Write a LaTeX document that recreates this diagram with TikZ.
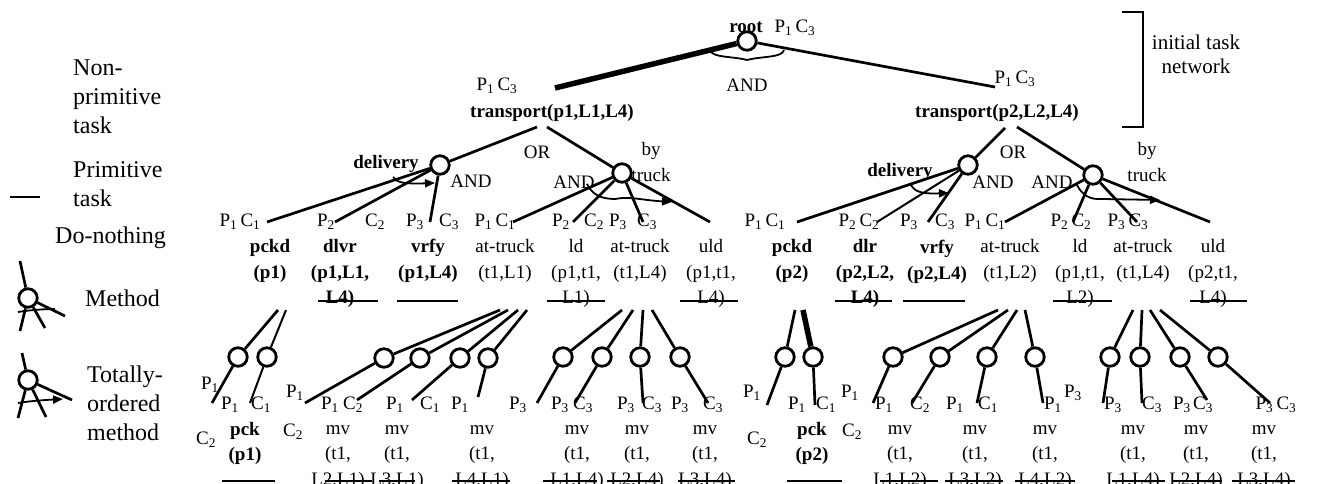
\documentclass[tikz,border=0pt]{standalone}
\usepackage{fontspec}
\setmainfont{Liberation Serif}
\usetikzlibrary{arrows.meta,calc}

\newcommand\lblPC[2]{P\textsubscript{#1}\,C\textsubscript{#2}}
\newcommand\lblP[1]{P\textsubscript{#1}}
\newcommand\lblC[1]{C\textsubscript{#1}}

\tikzset{
  txt/.style={font=\fontsize{19}{25.5}\selectfont, inner sep=0pt, align=center},
  btxt/.style={font=\fontsize{19}{25.5}\selectfont\bfseries, inner sep=0pt, align=center},
  legtxt/.style={font=\fontsize{24}{29}\selectfont, inner sep=0pt, align=left, anchor=west},
  meth/.style={circle, draw, line width=2.8pt, fill=white, minimum size=18.5pt, inner sep=0pt},
  conn/.style={line width=2.7pt},
  thinconn/.style={line width=2pt},
  heavy/.style={line width=5.5pt},
  prim/.style={line width=2.4pt},
  ordarrow/.style={line width=1.8pt, -{Triangle[length=10pt,width=8pt]}},
  andarc/.style={line width=1.8pt},
}

\begin{document}
\begin{tikzpicture}[x=1pt,y=-1pt]
\useasboundingbox (0,0) rectangle (1319,484);

% ================= legend =================
\node[legtxt] (legNP) at (73,97) {Non-\\primitive\\task};
\node[legtxt] (legPT) at (73,184) {Primitive\\task};
\coordinate (legPTa) at (10,197);
\coordinate (legPTb) at (40,197);
\draw[conn] (legPTa) -- (legPTb);
\node[legtxt] (legDN) at (55,238) {Do-nothing};

% method symbol
\node[meth] (legM) at (28,298) {};
\draw[conn] (legM) -- (20,261);
\draw[conn] (legM) -- (65,316);
\draw[conn] (legM) -- (20,331);
\draw[conn] (legM) -- (45,328);
\draw[andarc] (18,312) .. controls (30,310) and (45,309) .. (55,309);
\node[legtxt] (legMT) at (85,298) {Method};

% totally-ordered method symbol
\node[meth] (legT) at (28,380) {};
\draw[conn] (legT) -- (22,353);
\draw[conn] (legT) -- (72,400);
\draw[conn] (legT) -- (18,418);
\draw[conn] (legT) -- (46,417);
\draw[ordarrow] (18,403) .. controls (30,401) and (45,400) .. (63,399);
\node[legtxt] (legTT) at (87,403) {Totally-\\ordered\\method};

% ================= root =================
\node[btxt] (rootT) at (746,27) {root};
\node[txt] (rootPC) at (795,28) {\lblPC13};
\node[meth] (m0) at (747,41) {};
\node[txt] (andRoot) at (747,85) {AND};
\draw[andarc] ($(m0)+(-37,9)$) .. controls ($(m0)+(-35,17)$) and ($(m0)+(-15,15)$) .. ($(m0)+(0,19)$)
              .. controls ($(m0)+(15,15)$) and ($(m0)+(35,17)$) .. ($(m0)+(37,9)$);

\node[txt] (t1PC) at (497,86) {\lblPC13};
\node[btxt] (t1) at (552,113) {transport(p1,L1,L4)};
\node[txt] (t2PC) at (1015,79) {\lblPC13};
\node[btxt] (t2) at (997,113) {transport(p2,L2,L4)};
\coordinate (t1in) at (555,88);
\coordinate (t2in) at (995,87);
\draw[heavy] (m0) -- (t1in);
\draw[conn] (m0) -- (t2in);

% bracket for the initial task network
\draw[line width=2.2pt] (1122,12) -| (1143,127) -- (1122,127);
\node[txt, font=\fontsize{21}{24}\selectfont] (initNet) at (1196,54) {initial task\\network};

% ================= transport(p1,L1,L4) =================
\node[meth] (dl1) at (440,165) {};
\node[meth] (bt1) at (622,173) {};
\coordinate (t1a) at (537,127);
\coordinate (t1b) at (547,127);
\draw[conn] (t1a) -- (dl1);
\draw[conn] (t1b) -- (bt1);
\node[txt] (or1) at (537,152) {OR};
\node[txt] (by1) at (651,162) {by\\truck};
\node[btxt] (del1) at (386,164) {delivery};
\node[txt] (and1a) at (471,181) {AND};
\node[txt] (and1b) at (574,182) {AND};

\coordinate (dl1a) at (267,222);
\coordinate (dl1b) at (335,222);
\coordinate (dl1c) at (430,222);
\draw[conn] (dl1) -- (dl1a);
\draw[conn] (dl1) -- (dl1b);
\draw[conn] (dl1) -- (dl1c);
\draw[ordarrow] (393,177) .. controls (397,183) and (405,184) .. (435,183);

\coordinate (bt1a) at (513,222);
\coordinate (bt1b) at (573,222);
\coordinate (bt1c) at (643,222);
\coordinate (bt1d) at (710,222);
\draw[conn] (bt1) -- (bt1a);
\draw[conn] (bt1) -- (bt1b);
\draw[conn] (bt1) -- (bt1c);
\draw[conn] (bt1) -- (bt1d);
\draw[ordarrow] (587,184) .. controls (592,194) and (600,199) .. (615,199)
                .. controls (630,196) and (640,200) .. (672,202);

\node[txt] (q1) at (240,222) {\lblPC11};
\node[txt] (q2) at (326,222) {\lblP2};
\node[txt] (q3) at (375,222) {\lblC2};
\node[txt] (q4) at (415,222) {\lblP3};
\node[txt] (q5) at (449,222) {\lblC3};
\node[txt] (q6) at (495,222) {\lblPC11};
\node[txt] (q7) at (561,222) {\lblP2};
\node[txt] (q8) at (594,222) {\lblC2};
\node[txt] (q9) at (618,222) {\lblP3};
\node[txt] (q10) at (647,222) {\lblC3};

\node[btxt] (pckd1) at (270,261) {pckd\\(p1)};
\node[btxt] (dlvr1) at (340,273.5) {dlvr\\(p1,L1,\\L4)};
\node[btxt] (vrfy1) at (428,261) {vrfy\\(p1,L4)};
\node[txt] (atA) at (505,261) {at-truck\\(t1,L1)};
\node[txt] (ld1) at (576,273.5) {ld\\(p1,t1,\\L1)};
\node[txt] (atB) at (640,261) {at-truck\\(t1,L4)};
\node[txt] (uld1) at (711,273.5) {uld\\(p1,t1,\\L4)};
\draw[prim] (318,301) -- (378,301);
\draw[prim] (397,301) -- (458,301);
\draw[prim] (547,301) -- (605,301);
\draw[prim] (680,301) -- (738,301);

% ================= transport(p2,L2,L4) =================
\node[meth] (dl2) at (968,165) {};
\node[meth] (bt2) at (1093,175) {};
\coordinate (t2a) at (1005,128);
\coordinate (t2b) at (1017,127);
\draw[conn] (t2a) -- (dl2);
\draw[conn] (t2b) -- (bt2);
\node[txt] (or2) at (1013,152) {OR};
\node[txt] (by2) at (1147,162) {by\\truck};
\node[btxt] (del2) at (900,172) {delivery};
\node[txt] (and2a) at (993,182) {AND};
\node[txt] (and2b) at (1052,182) {AND};

\coordinate (dl2a) at (797,222);
\coordinate (dl2b) at (877,222);
\coordinate (dl2c) at (928,222);
\draw[conn] (dl2) -- (dl2a);
\draw[thinconn] (dl2) -- (dl2b);
\draw[conn] (dl2) -- (dl2c);
\draw[ordarrow] (911,185) .. controls (915,192) and (922,194) .. (949,193);

\coordinate (bt2a) at (1005,222);
\coordinate (bt2b) at (1073,222);
\coordinate (bt2c) at (1137,222);
\coordinate (bt2d) at (1210,222);
\draw[conn] (bt2) -- (bt2a);
\draw[conn] (bt2) -- (bt2b);
\draw[conn] (bt2) -- (bt2c);
\draw[conn] (bt2) -- (bt2d);
\draw[ordarrow] (1077,185) .. controls (1082,195) and (1090,200) .. (1102,199) -- (1160,200);

\node[txt] (r1) at (765,222) {\lblPC11};
\node[txt] (r2) at (859,222) {\lblPC22};
\node[txt] (r3) at (909,222) {\lblP3};
\node[txt] (r4) at (945,222) {\lblC3};
\node[txt] (r5) at (985,222) {\lblPC11};
\node[txt] (r6) at (1071,222) {\lblPC22};
\node[txt] (r7) at (1128,222) {\lblPC33};

\node[btxt] (pckd2) at (792,261) {pckd\\(p2)};
\node[btxt] (dlr2) at (865,273.5) {dlr\\(p2,L2,\\L4)};
\node[btxt] (vrfy2) at (937,262) {vrfy\\(p2,L4)};
\node[txt] (atC) at (1010,261) {at-truck\\(t1,L2)};
\node[txt] (ld2) at (1080,273.5) {ld\\(p1,t1,\\L2)};
\node[txt] (atD) at (1143,261) {at-truck\\(t1,L4)};
\node[txt] (uld2) at (1213,273.5) {uld\\(p2,t1,\\L4)};
\draw[prim] (835,301) -- (892,301);
\draw[prim] (903,301) -- (965,301);
\draw[prim] (1053,301) -- (1112,301);
\draw[prim] (1190,301) -- (1247,301);

% ================= lowest level =================
% pckd(p1)
\node[meth] (a1) at (238,357) {};
\node[meth] (a2) at (267,357) {};
\coordinate (pk1a) at (278,310);
\coordinate (pk1b) at (286,310);
\coordinate (a1d) at (212,403);
\coordinate (a2d) at (250,403);
\draw[conn] (pk1a) -- (a1);
\draw[thinconn] (pk1b) -- (a2);
\draw[conn] (a1) -- (a1d);
\draw[thinconn] (a2) -- (a2d);
\node[txt] (s1) at (210,385) {\lblP1};
\node[txt] (s2) at (230,405) {\lblP1};
\node[txt] (s3) at (261,405) {\lblC1};
\node[txt] (s4) at (206,440) {\lblC2};
\node[btxt] (pck1) at (245,443.5) {pck\\(p1)};
\draw[prim] (222,481) -- (275,481);

% at-truck(t1,L1)
\node[meth] (b1) at (384,358) {};
\node[meth] (b2) at (420,358) {};
\node[meth] (b3) at (460,358) {};
\node[meth] (b4) at (488,358) {};
\coordinate (atAa) at (500,310);
\coordinate (atAb) at (508,310);
\coordinate (atAc) at (518,310);
\coordinate (atAd) at (527,310);
\coordinate (b1d) at (305,403);
\coordinate (b2d) at (357,400);
\coordinate (b3d) at (412,400);
\coordinate (b4d) at (478,397);
\draw[conn] (atAa) -- (b1);
\draw[conn] (atAb) -- (b2);
\draw[conn] (atAc) -- (b3);
\draw[conn] (atAd) -- (b4);
\draw[conn] (b1) -- (b1d);
\draw[conn] (b2) -- (b2d);
\draw[conn] (b3) -- (b3d);
\draw[conn] (b4) -- (b4d);
\node[txt] (s5) at (295,393) {\lblP1};
\node[txt] (s6) at (293,432) {\lblC2};
\node[txt] (s7) at (330,405) {\lblP1};
\node[txt] (s8) at (353,405) {\lblC2};
\node[txt] (s9) at (395,405) {\lblP1};
\node[txt] (s10) at (430,405) {\lblC1};
\node[txt] (s11) at (460,405) {\lblP1};
\node[txt] (mvA1) at (338,457.5) {mv\\(t1,\\L2,L1)};
\node[txt] (mvA2) at (397,457.5) {mv\\(t1,\\L3,L1)};
\node[txt] (mvA3) at (482,457.5) {mv\\(t1,\\L4,L1)};
\draw[prim] (325,481) -- (372,481);
\draw[prim] (379,481) -- (415,481);
\draw[prim] (452,481) -- (510,481);

% at-truck(t1,L4), left
\node[meth] (c1) at (563,357) {};
\node[meth] (c2) at (602,357) {};
\node[meth] (c3) at (640,357) {};
\node[meth] (c4) at (680,357) {};
\coordinate (atBa) at (622,310);
\coordinate (atBb) at (633,310);
\coordinate (atBc) at (643,310);
\coordinate (atBd) at (652,310);
\coordinate (c1d) at (537,403);
\coordinate (c2d) at (575,403);
\coordinate (c3d) at (643,403);
\coordinate (c4d) at (708,403);
\draw[conn] (atBa) -- (c1);
\draw[conn] (atBb) -- (c2);
\draw[conn] (atBc) -- (c3);
\draw[conn] (atBd) -- (c4);
\draw[conn] (c1) -- (c1d);
\draw[conn] (c2) -- (c2d);
\draw[conn] (c3) -- (c3d);
\draw[conn] (c4) -- (c4d);
\node[txt] (s12) at (518,405) {\lblP3};
\node[txt] (s13) at (560,405) {\lblP3};
\node[txt] (s14) at (583,405) {\lblC3};
\node[txt] (s15) at (626,405) {\lblP3};
\node[txt] (s16) at (652,405) {\lblC3};
\node[txt] (s17) at (680,405) {\lblP3};
\node[txt] (s18) at (713,405) {\lblC3};
\node[txt] (mvB1) at (577,457.5) {mv\\(t1,\\L1,L4)};
\node[txt] (mvB2) at (637,457.5) {mv\\(t1,\\L2,L4)};
\node[txt] (mvB3) at (705,457.5) {mv\\(t1,\\L3,L4)};
\draw[prim] (543,481) -- (597,481);
\draw[prim] (607,481) -- (660,481);
\draw[prim] (678,481) -- (735,481);

% pckd(p2)
\node[meth] (d1) at (785,357) {};
\node[meth] (d2) at (813,357) {};
\coordinate (pk2a) at (795,310);
\coordinate (pk2b) at (803,310);
\coordinate (d1d) at (767,405);
\coordinate (d2d) at (815,405);
\draw[conn] (pk2a) -- (d1);
\draw[heavy] (pk2b) -- (d2);
\draw[conn] (d1) -- (d1d);
\draw[conn] (d2) -- (d2d);
\node[txt] (s19) at (752,393) {\lblP1};
\node[txt] (s20) at (797,405) {\lblP1};
\node[txt] (s21) at (826,405) {\lblC1};
\node[txt] (s22) at (757,440) {\lblC2};
\node[btxt] (pck2) at (812,443.5) {pck\\(p2)};
\draw[prim] (787,481) -- (842,481);

% at-truck(t1,L2)
\node[meth] (e1) at (893,357) {};
\node[meth] (e2) at (940,357) {};
\node[meth] (e3) at (987,357) {};
\node[meth] (e4) at (1035,357) {};
\coordinate (atCa) at (998,310);
\coordinate (atCb) at (1008,310);
\coordinate (atCc) at (1017,310);
\coordinate (atCd) at (1025,310);
\coordinate (e1d) at (873,403);
\coordinate (e2d) at (912,403);
\coordinate (e3d) at (977,403);
\coordinate (e4d) at (1043,403);
\draw[conn] (atCa) -- (e1);
\draw[conn] (atCb) -- (e2);
\draw[conn] (atCc) -- (e3);
\draw[conn] (atCd) -- (e4);
\draw[conn] (e1) -- (e1d);
\draw[conn] (e2) -- (e2d);
\draw[conn] (e3) -- (e3d);
\draw[conn] (e4) -- (e4d);
\node[txt] (s23) at (850,393) {\lblP1};
\node[txt] (s24) at (852,432) {\lblC2};
\node[txt] (s25) at (884,405) {\lblP1};
\node[txt] (s26) at (920,405) {\lblC2};
\node[txt] (s27) at (955,405) {\lblP1};
\node[txt] (s28) at (988,405) {\lblC1};
\node[txt] (s29) at (1053,405) {\lblP1};
\node[txt] (mvC1) at (900,457.5) {mv\\(t1,\\L1,L2)};
\node[txt] (mvC2) at (975,457.5) {mv\\(t1,\\L3,L2)};
\node[txt] (mvC3) at (1045,457.5) {mv\\(t1,\\L4,L2)};
\draw[prim] (880,481) -- (938,481);
\draw[prim] (945,481) -- (1003,481);
\draw[prim] (1015,481) -- (1075,481);

% at-truck(t1,L4), right
\node[meth] (f1) at (1110,357) {};
\node[meth] (f2) at (1140,357) {};
\node[meth] (f3) at (1180,357) {};
\node[meth] (f4) at (1218,357) {};
\coordinate (atDa) at (1133,310);
\coordinate (atDb) at (1142,310);
\coordinate (atDc) at (1150,310);
\coordinate (atDd) at (1160,310);
\coordinate (f1d) at (1103,403);
\coordinate (f2d) at (1142,403);
\coordinate (f3d) at (1207,400);
\coordinate (f4d) at (1270,403);
\draw[conn] (atDa) -- (f1);
\draw[conn] (atDb) -- (f2);
\draw[conn] (atDc) -- (f3);
\draw[conn] (atDd) -- (f4);
\draw[conn] (f1) -- (f1d);
\draw[conn] (f2) -- (f2d);
\draw[conn] (f3) -- (f3d);
\draw[conn] (f4) -- (f4d);
\node[txt] (s30) at (1073,393) {\lblP3};
\node[txt] (s31) at (1113,405) {\lblP3};
\node[txt] (s32) at (1152,405) {\lblC3};
\node[txt] (s33) at (1182,405) {\lblP3};
\node[txt] (s34) at (1203,405) {\lblC3};
\node[txt] (s35) at (1276,405) {\lblPC33};
\node[txt] (mvD1) at (1133,457.5) {mv\\(t1,\\L1,L4)};
\node[txt] (mvD2) at (1196,457.5) {mv\\(t1,\\L2,L4)};
\node[txt] (mvD3) at (1264,457.5) {mv\\(t1,\\L3,L4)};
\draw[prim] (1112,481) -- (1165,481);
\draw[prim] (1172,481) -- (1222,481);
\draw[prim] (1232,481) -- (1295,481);
\end{tikzpicture}
\end{document}
